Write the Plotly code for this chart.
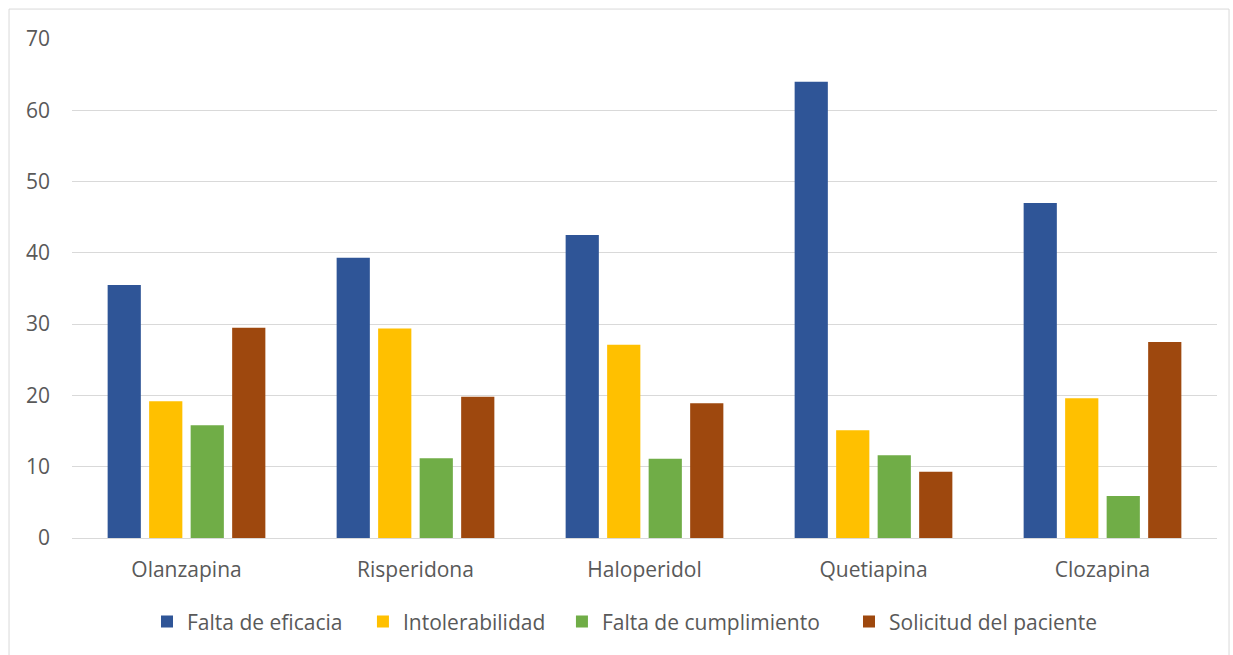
import plotly.graph_objects as go

# Antipsychotics and discontinuation reasons (%)
farmacos = ["Olanzapina", "Risperidona", "Haloperidol", "Quetiapina", "Clozapina"]
falta_eficacia = [35.5, 39.3, 42.5, 64.0, 47.0]
intolerabilidad = [19.2, 29.4, 27.1, 15.1, 19.6]
falta_cumplimiento = [15.8, 11.2, 11.1, 11.6, 5.9]
solicitud_paciente = [29.5, 19.8, 18.9, 9.3, 27.5]

series = [
    ("Falta de eficacia", falta_eficacia, "#2F5597"),
    ("Intolerabilidad", intolerabilidad, "#FFC000"),
    ("Falta de cumplimiento", falta_cumplimiento, "#70AD47"),
    ("Solicitud del paciente", solicitud_paciente, "#9E480E"),
]

# one legend per series so the entries can be spaced out along the bottom
legend_ids = ["legend", "legend2", "legend3", "legend4"]
legend_x = [0.0655, 0.2541, 0.4279, 0.6786]

fig = go.Figure()
for (nombre, valores, color), lid in zip(series, legend_ids):
    fig.add_trace(go.Bar(
        x=farmacos, y=valores, name=nombre, legend=lid,
        marker=dict(color=color, line=dict(width=0)),
    ))

font_family = "'Open Sans', sans-serif"
font_size = 21
legend_font = dict(size=font_size, color="#595959")

layout_legends = {}
for lid, lx in zip(legend_ids, legend_x):
    layout_legends[lid] = dict(
        orientation="h", x=lx, xanchor="left", y=-0.168, yanchor="middle",
        font=legend_font, itemwidth=30, itemclick=False, bgcolor="rgba(0,0,0,0)",
    )

fig.update_layout(
    width=1233, height=655,
    margin=dict(l=72, r=16, t=39, b=117, autoexpand=False),
    paper_bgcolor="white", plot_bgcolor="white",
    barmode="group", bargap=0.275, bargroupgap=0.2,
    font=dict(family=font_family, size=font_size, color="#595959"),
    showlegend=True,
    xaxis=dict(
        showgrid=False, showline=True, linecolor="#d9d9d9", linewidth=1,
        ticks="", tickfont=dict(size=font_size, color="#595959"), ticklabelstandoff=13,
    ),
    yaxis=dict(
        range=[0, 70], dtick=10, showgrid=True, gridcolor="#d9d9d9", gridwidth=1,
        zeroline=False, showline=False, ticks="",
        tickfont=dict(size=font_size, color="#595959"), ticklabelstandoff=21,
    ),
    shapes=[dict(
        type="rect", xref="paper", yref="paper",
        x0=-0.055, x1=1.0105, y0=-0.3, y1=1.060,
        line=dict(color="#d9d9d9", width=1), fillcolor="rgba(0,0,0,0)", layer="below",
    )],
    **layout_legends,
)

fig.write_html("out.html")
